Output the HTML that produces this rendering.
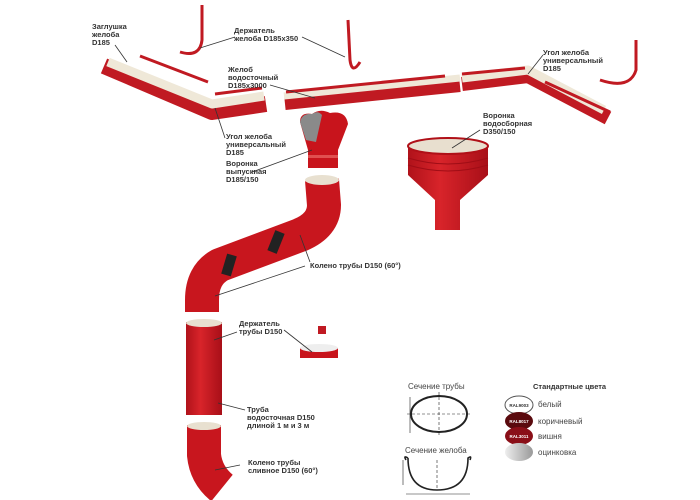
<!DOCTYPE html>
<html><head><meta charset="utf-8"><style>
html,body{margin:0;padding:0;background:#fff;}
svg{display:block;font-family:"Liberation Sans",sans-serif;}
.l{font-size:7.5px;font-weight:bold;fill:#333;}
.s{font-size:8px;fill:#444;}
</style></head><body>
<svg width="700" height="500" viewBox="0 0 700 500">
<defs>
<linearGradient id="p" x1="0" x2="1" y1="0" y2="0"><stop offset="0" stop-color="#b0121a"/><stop offset=".4" stop-color="#d8242a"/><stop offset="1" stop-color="#a80f18"/></linearGradient>
<linearGradient id="g" x1="0" x2="1"><stop offset="0" stop-color="#eee"/><stop offset="1" stop-color="#999"/></linearGradient>
</defs>
<g fill="none" stroke-linejoin="round">
<path d="M104,66 L212,112 L266,104" stroke="#c01a22" stroke-width="16"/>
<path d="M108,62 L212,104 L264,96" stroke="#efe8d8" stroke-width="9"/>
<path d="M140,56 L208,82 M215,94 L262,88" stroke="#c01a22" stroke-width="3"/>
<path d="M285,104 L460,86" stroke="#c01a22" stroke-width="12"/>
<path d="M284,96 L460,78" stroke="#efe8d8" stroke-width="7"/>
<path d="M286,92 L445,76" stroke="#c01a22" stroke-width="3"/>
<path d="M462,84 L528,76 L608,118" stroke="#c01a22" stroke-width="14"/>
<path d="M462,78 L528,70 L604,110" stroke="#efe8d8" stroke-width="9"/>
<path d="M462,74 L525,68 M545,82 L610,112" stroke="#c01a22" stroke-width="3"/>
<path d="M202,5 L202,40 Q200,58 180,52" stroke="#c01a22" stroke-width="3"/>
<path d="M348,20 L350,60 Q352,75 360,62" stroke="#c01a22" stroke-width="3"/>
<path d="M636,40 L636,70 Q630,90 600,80" stroke="#c01a22" stroke-width="3"/>
<path d="M322,180 L324,205 Q324,225 300,235 L220,265 Q202,275 202,300 L202,312" stroke="#c8161e" stroke-width="34" stroke-linecap="butt"/>
<path d="M280,232 l-8,20 M232,255 l-6,20" stroke="#222" stroke-width="10"/>
<rect x="186" y="322" width="36" height="93" fill="url(#p)"/>
<path d="M204,425 L204,455 Q206,475 222,488" stroke="#c8161e" stroke-width="34"/>
</g>
<ellipse cx="322" cy="180" rx="17" ry="5" fill="#e8e0d0"/>
<ellipse cx="204" cy="323" rx="18" ry="4" fill="#e8e0d0"/>
<ellipse cx="204" cy="426" rx="17" ry="4" fill="#e8e0d0"/>
<!-- outlet funnel -->
<path d="M300,122 Q300,112 312,114 Q320,108 330,113 Q346,110 348,124 L338,150 L338,168 L308,168 L308,150 Z" fill="#c8141c"/>
<path d="M300,122 Q302,113 312,114 Q318,110 322,115 L316,142 L306,140 Z" fill="#8a8a8a"/>
<rect x="308" y="155" width="30" height="3" fill="#e05050"/>
<!-- collector funnel -->
<path d="M408,146 L408,175 L435,200 L435,230 L460,230 L460,200 L488,175 L488,146 Q448,160 408,146 Z" fill="url(#p)"/>
<path d="M408,158 Q448,170 488,158 M408,165 Q448,177 488,165" stroke="#a00d16" fill="none"/>
<ellipse cx="448" cy="146" rx="40" ry="8" fill="#e8dfcf" stroke="#b01018" stroke-width="2"/>
<!-- pipe holder -->
<rect x="318" y="326" width="8" height="8" fill="#c01a22"/>
<path d="M300,348 L338,348 L338,358 L300,358 Z" fill="#c8141c"/>
<ellipse cx="319" cy="348" rx="19" ry="4" fill="#eee"/>
<g stroke="#333" stroke-width="0.8">
<line x1="115" y1="45" x2="127" y2="62"/>
<line x1="235" y1="37" x2="200" y2="48"/>
<line x1="302" y1="37" x2="345" y2="57"/>
<line x1="270" y1="85" x2="315" y2="98"/>
<line x1="225" y1="138" x2="215" y2="108"/>
<line x1="252" y1="172" x2="312" y2="150"/>
<line x1="543" y1="55" x2="528" y2="74"/>
<line x1="480" y1="130" x2="452" y2="148"/>
<line x1="310" y1="262" x2="300" y2="235"/>
<line x1="305" y1="266" x2="215" y2="296"/>
<line x1="237" y1="332" x2="214" y2="340"/>
<line x1="284" y1="330" x2="312" y2="352"/>
<line x1="245" y1="410" x2="218" y2="403"/>
<line x1="240" y1="465" x2="215" y2="470"/>
</g>
<g class="l">
<text x="92" y="29">Заглушка</text><text x="92" y="37">желоба</text><text x="92" y="45">D185</text>
<text x="234" y="33">Держатель</text><text x="234" y="41">желоба D185х350</text>
<text x="228" y="72">Желоб</text><text x="228" y="80">водосточный</text><text x="228" y="88">D185х3000</text>
<text x="226" y="139">Угол желоба</text><text x="226" y="147">универсальный</text><text x="226" y="155">D185</text>
<text x="226" y="166">Воронка</text><text x="226" y="174">выпускная</text><text x="226" y="182">D185/150</text>
<text x="543" y="55">Угол желоба</text><text x="543" y="63">универсальный</text><text x="543" y="71">D185</text>
<text x="483" y="118">Воронка</text><text x="483" y="126">водосборная</text><text x="483" y="134">D350/150</text>
<text x="310" y="268">Колено трубы D150 (60°)</text>
<text x="239" y="326">Держатель</text><text x="239" y="334">трубы D150</text>
<text x="247" y="412">Труба</text><text x="247" y="420">водосточная D150</text><text x="247" y="428">длиной 1 м и 3 м</text>
<text x="248" y="465">Колено трубы</text><text x="248" y="473">сливное D150 (60°)</text>
<text x="533" y="389">Стандартные цвета</text>
</g>
<text class="s" x="408" y="389">Сечение трубы</text>
<text class="s" x="405" y="453">Сечение желоба</text>
<g fill="none" stroke="#222">
<ellipse cx="439" cy="414" rx="28" ry="18" stroke-width="2"/>
<path d="M407,414 H471 M439,392 V436" stroke-dasharray="3,2" stroke-width="0.6"/>
<path d="M410,397 V433" stroke-width="0.6"/>
<path d="M408,458 Q403,455 406,460 M408,458 Q408,490 437,490 Q468,490 468,458 Q472,455 470,460" stroke-width="1.6"/>
<path d="M437,460 V488" stroke-dasharray="3,2" stroke-width="0.6"/>
<path d="M403,460 V485 M406,494 H470" stroke-width="0.6"/>
</g>
<ellipse cx="519" cy="405" rx="14" ry="9" fill="#fff" stroke="#555"/>
<ellipse cx="519" cy="421" rx="14" ry="9" fill="#5a0a0e"/>
<ellipse cx="519" cy="436" rx="14" ry="9" fill="#8a0f18"/>
<ellipse cx="519" cy="452" rx="14" ry="9" fill="url(#g)"/>
<g font-size="4.5" font-weight="bold" text-anchor="middle"><text x="519" y="407" fill="#333">RAL9003</text><text x="519" y="423" fill="#fff">RAL8017</text><text x="519" y="438" fill="#fff">RAL3011</text></g>
<g class="s"><text x="538" y="407">белый</text><text x="538" y="424">коричневый</text><text x="538" y="439">вишня</text><text x="538" y="455">оцинковка</text></g>
</svg>
</body></html>
